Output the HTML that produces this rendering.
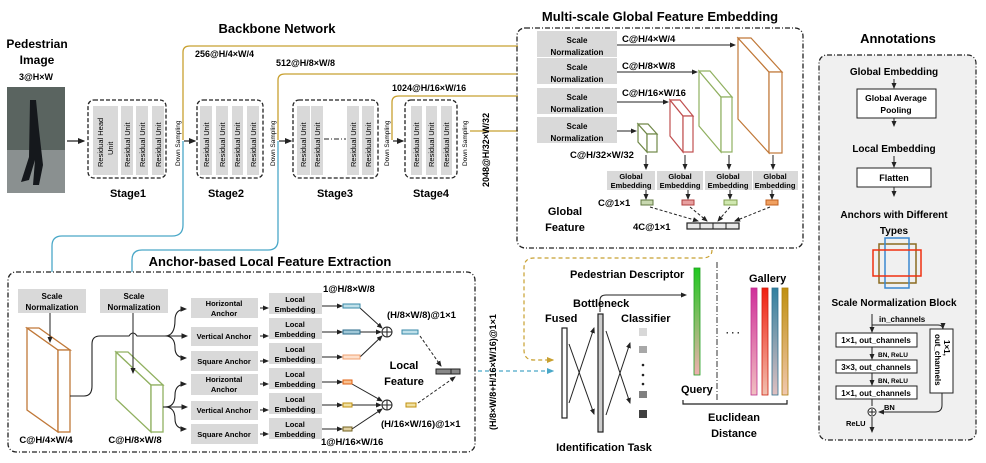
<!DOCTYPE html>
<html><head><meta charset="utf-8"><style>
body{margin:0;background:#fff;}
svg{display:block;font-family:"Liberation Sans",Arial,sans-serif;font-weight:bold;}
</style></head><body>
<svg width="986" height="463" viewBox="0 0 986 463" xmlns="http://www.w3.org/2000/svg">
<defs>
<marker id="a" markerWidth="6" markerHeight="6" refX="5" refY="3" orient="auto"><path d="M0,0.5 L6,3 L0,5.5 z" fill="#222"/></marker>
<marker id="ac" markerWidth="6" markerHeight="6" refX="5" refY="3" orient="auto"><path d="M0,0.5 L6,3 L0,5.5 z" fill="#4aa8c8"/></marker>
<marker id="ag" markerWidth="6" markerHeight="6" refX="5" refY="3" orient="auto"><path d="M0,0.5 L6,3 L0,5.5 z" fill="#c8a030"/></marker>
<linearGradient id="gq" x1="0" y1="0" x2="0" y2="1"><stop offset="0" stop-color="#1fc81f"/><stop offset="1" stop-color="#f0b0b0"/></linearGradient>
<linearGradient id="g1" x1="0" y1="0" x2="0" y2="1"><stop offset="0" stop-color="#d0309a"/><stop offset="1" stop-color="#f0c0c0"/></linearGradient>
<linearGradient id="g2" x1="0" y1="0" x2="0" y2="1"><stop offset="0" stop-color="#f02010"/><stop offset="1" stop-color="#f0c0b0"/></linearGradient>
<linearGradient id="g3" x1="0" y1="0" x2="0" y2="1"><stop offset="0" stop-color="#3080a0"/><stop offset="1" stop-color="#e0c0c0"/></linearGradient>
<linearGradient id="g4" x1="0" y1="0" x2="0" y2="1"><stop offset="0" stop-color="#c09010"/><stop offset="1" stop-color="#f0c8b0"/></linearGradient>
</defs>

<!-- Titles -->
<text x="277" y="33" font-size="13" text-anchor="middle">Backbone Network</text>
<text x="660" y="21" font-size="13" text-anchor="middle">Multi-scale Global Feature Embedding</text>
<text x="898" y="43" font-size="13" text-anchor="middle">Annotations</text>
<text x="270" y="266" font-size="13" text-anchor="middle">Anchor-based Local Feature Extraction</text>

<!-- pedestrian -->
<text x="37" y="48" font-size="12" text-anchor="middle">Pedestrian</text>
<text x="37" y="64" font-size="12" text-anchor="middle">Image</text>
<text x="36" y="80" font-size="9" text-anchor="middle">3@H×W</text>
<rect x="7" y="87" width="58" height="106" fill="#5a6460"/>
<rect x="7" y="150" width="58" height="43" fill="#8a9090"/>
<path d="M30,100 l6,0 l3,30 l4,35 l-4,20 l-6,0 l2,-25 l-6,20 l-8,2 l8,-25 z" fill="#15181c"/>
<line x1="67" y1="141" x2="84" y2="141" stroke="#222" stroke-width="1.2" marker-end="url(#a)"/>

<!-- gold lines -->
<g fill="none" stroke="#c8a030" stroke-width="1.3">
<path d="M183,140 V52 Q183,46 190,46 H518"/>
<path d="M278,140 V80 Q278,74 285,74 H518"/>
<path d="M392,140 V102 Q392,96 399,96 H518"/>
<path d="M470,131 H518"/>
</g>
<g fill="none" stroke="#4aa8c8" stroke-width="1.3">
<path d="M183,141 V225 Q183,236 172,236 H62 Q52,236 52,246 V272"/>
<path d="M278,141 V240 Q278,250 268,250 H142 Q132,250 132,260 V272"/>
</g>
<text x="195" y="57" font-size="9">256@H/4×W/4</text>
<text x="276" y="66" font-size="9">512@H/8×W/8</text>
<text x="392" y="91" font-size="9">1024@H/16×W/16</text>
<text transform="translate(489,187) rotate(-90)" font-size="9">2048@H/32×W/32</text>

<!-- stages -->
<g fill="none" stroke="#222" stroke-width="1.3" stroke-dasharray="4,2">
<rect x="88" y="100" width="78" height="78" rx="6"/>
<rect x="197" y="100" width="66" height="78" rx="6"/>
<rect x="293" y="100" width="85" height="78" rx="6"/>
<rect x="405" y="100" width="52" height="78" rx="6"/>
</g>
<g fill="#d9d9d9">
<rect x="93" y="106" width="25" height="69"/>
<rect x="121" y="106" width="12" height="69"/><rect x="136" y="106" width="12" height="69"/><rect x="152" y="106" width="12" height="69"/>
<rect x="200" y="106" width="12" height="69"/><rect x="216" y="106" width="12" height="69"/><rect x="232" y="106" width="11" height="69"/><rect x="247" y="106" width="12" height="69"/>
<rect x="297" y="106" width="13" height="69"/><rect x="311" y="106" width="12" height="69"/><rect x="347" y="106" width="12" height="69"/><rect x="362" y="106" width="12" height="69"/>
<rect x="411" y="106" width="11" height="69"/><rect x="426" y="106" width="11" height="69"/><rect x="441" y="106" width="11" height="69"/>
</g>
<line x1="324" y1="139" x2="346" y2="139" stroke="#222" stroke-dasharray="5,2,1,2"/>
<g font-size="7.5" font-weight="normal">
<text transform="translate(103,167) rotate(-90)">Residual Head</text>
<text transform="translate(113,155) rotate(-90)">Unit</text>
<g id="ru"><text transform="translate(130,167) rotate(-90)">Residual Unit</text></g>
<text transform="translate(145,167) rotate(-90)">Residual Unit</text>
<text transform="translate(161,167) rotate(-90)">Residual Unit</text>
<text transform="translate(209,167) rotate(-90)">Residual Unit</text>
<text transform="translate(225,167) rotate(-90)">Residual Unit</text>
<text transform="translate(240,167) rotate(-90)">Residual Unit</text>
<text transform="translate(256,167) rotate(-90)">Residual Unit</text>
<text transform="translate(306,167) rotate(-90)">Residual Unit</text>
<text transform="translate(320,167) rotate(-90)">Residual Unit</text>
<text transform="translate(356,167) rotate(-90)">Residual Unit</text>
<text transform="translate(371,167) rotate(-90)">Residual Unit</text>
<text transform="translate(419,167) rotate(-90)">Residual Unit</text>
<text transform="translate(434,167) rotate(-90)">Residual Unit</text>
<text transform="translate(449,167) rotate(-90)">Residual Unit</text>
<g font-size="6.5">
<text transform="translate(180,166) rotate(-90)">Down Sampling</text>
<text transform="translate(275,166) rotate(-90)">Down Sampling</text>
<text transform="translate(389,166) rotate(-90)">Down Sampling</text>
<text transform="translate(467,166) rotate(-90)">Down Sampling</text>
</g>
</g>
<g stroke="#222" stroke-width="1.2" marker-end="url(#a)">
<line x1="184" y1="141" x2="195" y2="141"/>
<line x1="279" y1="141" x2="291" y2="141"/>
<line x1="393" y1="141" x2="403" y2="141"/>
</g>
<g font-size="11" text-anchor="middle">
<text x="128" y="197">Stage1</text><text x="226" y="197">Stage2</text><text x="335" y="197">Stage3</text><text x="431" y="197">Stage4</text>
</g>

<!-- Multi-scale box -->
<rect x="517" y="28" width="286" height="220" rx="8" fill="none" stroke="#222" stroke-width="1.3" stroke-dasharray="5,2,1,2"/>
<g fill="#d9d9d9">
<rect x="537" y="31" width="80" height="26"/><rect x="537" y="58" width="80" height="26"/><rect x="537" y="88" width="80" height="26"/><rect x="537" y="117" width="80" height="26"/>
</g>
<g font-size="8" text-anchor="middle">
<text x="577" y="43">Scale</text><text x="577" y="55">Normalization</text>
<text x="577" y="70">Scale</text><text x="577" y="82">Normalization</text>
<text x="577" y="100">Scale</text><text x="577" y="112">Normalization</text>
<text x="577" y="129">Scale</text><text x="577" y="141">Normalization</text>
</g>
<g stroke="#222" stroke-width="1" marker-end="url(#a)">
<line x1="617" y1="45" x2="735" y2="45"/>
<line x1="617" y1="72" x2="697" y2="72"/>
<line x1="617" y1="102" x2="668" y2="102"/>
<line x1="617" y1="131" x2="636" y2="131"/>
</g>
<g font-size="9.5">
<text x="622" y="42">C@H/4×W/4</text><text x="622" y="69">C@H/8×W/8</text><text x="622" y="96">C@H/16×W/16</text><text x="570" y="158">C@H/32×W/32</text>
</g>
<!-- cuboids -->
<g fill="#fff" stroke-width="1.2">
<g stroke="#c07838"><polygon points="738,38 769,72 769,153 738,119"/><polygon points="738,38 751,38 782,72 769,72"/><rect x="769" y="72" width="13" height="81"/></g>
<g stroke="#90b060"><polygon points="699,71 721,97 721,152 699,126"/><polygon points="699,71 710,71 732,97 721,97"/><rect x="721" y="97" width="11" height="55"/></g>
<g stroke="#c05050"><polygon points="670,100 683,116 683,152 670,136"/><polygon points="670,100 680,100 693,116 683,116"/><rect x="683" y="116" width="10" height="36"/></g>
<g stroke="#708848"><polygon points="638,124 647,134 647,152 638,142"/><polygon points="638,124 648,124 657,134 647,134"/><rect x="647" y="134" width="10" height="18"/></g>
</g>
<g stroke="#222" stroke-width="1" marker-end="url(#a)">
<line x1="646" y1="155" x2="646" y2="169"/><line x1="685" y1="155" x2="685" y2="169"/><line x1="729" y1="155" x2="729" y2="169"/><line x1="773" y1="155" x2="773" y2="169"/>
<line x1="646" y1="190" x2="646" y2="199"/><line x1="688" y1="190" x2="688" y2="199"/><line x1="730" y1="190" x2="730" y2="199"/><line x1="772" y1="190" x2="772" y2="199"/>
</g>
<g fill="#d9d9d9"><rect x="607" y="171" width="48" height="19"/><rect x="657" y="171" width="46" height="19"/><rect x="705" y="171" width="47" height="19"/><rect x="753" y="171" width="45" height="19"/></g>
<g font-size="7.5" text-anchor="middle">
<text x="631" y="179">Global</text><text x="631" y="188">Embedding</text>
<text x="680" y="179">Global</text><text x="680" y="188">Embedding</text>
<text x="728" y="179">Global</text><text x="728" y="188">Embedding</text>
<text x="775" y="179">Global</text><text x="775" y="188">Embedding</text>
</g>
<rect x="641" y="200" width="12" height="5" fill="#c8d8b0" stroke="#607840"/>
<rect x="682" y="200" width="12" height="5" fill="#e8a0a0" stroke="#b04040"/>
<rect x="724" y="200" width="13" height="5" fill="#d0e8b0" stroke="#80a050"/>
<rect x="766" y="200" width="12" height="5" fill="#f0a060" stroke="#c06020"/>
<g stroke="#222" stroke-width="1" stroke-dasharray="3,2" marker-end="url(#a)">
<line x1="650" y1="207" x2="698" y2="221"/><line x1="690" y1="207" x2="707" y2="221"/><line x1="730" y1="207" x2="718" y2="221"/><line x1="770" y1="207" x2="735" y2="221"/>
</g>
<rect x="687" y="223" width="52" height="6" fill="#e8e8e8" stroke="#222" stroke-width="1.2"/>
<g stroke="#222"><line x1="700" y1="223" x2="700" y2="229"/><line x1="713" y1="223" x2="713" y2="229"/><line x1="726" y1="223" x2="726" y2="229"/></g>
<text x="598" y="206" font-size="9.5">C@1×1</text>
<text x="633" y="230" font-size="9.5">4C@1×1</text>
<text x="565" y="215" font-size="11" text-anchor="middle">Global</text>
<text x="565" y="231" font-size="11" text-anchor="middle">Feature</text>

<!-- Anchor box -->
<rect x="8" y="272" width="467" height="180" rx="8" fill="none" stroke="#222" stroke-width="1.3" stroke-dasharray="5,2,1,2"/>
<rect x="18" y="289" width="68" height="24" fill="#d9d9d9"/><rect x="100" y="289" width="68" height="24" fill="#d9d9d9"/>
<g font-size="8" text-anchor="middle"><text x="52" y="299">Scale</text><text x="52" y="310">Normalization</text><text x="134" y="299">Scale</text><text x="134" y="310">Normalization</text></g>
<g fill="#fff" stroke-width="1.3">
<g stroke="#c07838"><polygon points="27,328 58,350 58,432 27,410"/><polygon points="27,328 39,328 70,350 58,350"/><rect x="58" y="350" width="12" height="82"/></g>
<g stroke="#90b060"><polygon points="116,352 151,385 151,432 116,399"/><polygon points="116,352 128,352 163,385 151,385"/><rect x="151" y="385" width="12" height="47"/></g>
</g>
<g stroke="#222" stroke-width="1" marker-end="url(#a)"><line x1="50" y1="313" x2="50" y2="342"/><line x1="133" y1="313" x2="133" y2="373"/></g>
<g fill="none" stroke="#222" stroke-width="1.1">
<path d="M70,396 H84 Q92,396 92,386 V344 Q92,336 100,336 H129 Q133,330 137,336 H165"/>
<path d="M165,336 Q175,336 175,320 Q175,309 186,309" marker-end="url(#a)"/>
<path d="M165,336 H187" marker-end="url(#a)"/>
<path d="M165,336 Q175,336 175,348 Q175,358 186,358" marker-end="url(#a)"/>
<path d="M163,407 H170"/>
<path d="M165,407 Q175,407 175,395 Q175,384 186,384" marker-end="url(#a)"/>
<path d="M165,407 H187" marker-end="url(#a)"/>
<path d="M165,407 Q175,407 175,419 Q175,429 186,429" marker-end="url(#a)"/>
</g>
<g fill="#d9d9d9">
<rect x="191" y="298" width="67" height="20"/><rect x="191" y="327" width="67" height="19"/><rect x="191" y="351" width="67" height="20"/>
<rect x="191" y="374" width="67" height="21"/><rect x="191" y="401" width="67" height="19"/><rect x="191" y="424" width="67" height="20"/>
<rect x="269" y="293" width="53" height="21"/><rect x="269" y="318" width="53" height="21"/><rect x="269" y="343" width="53" height="21"/>
<rect x="269" y="368" width="53" height="21"/><rect x="269" y="393" width="53" height="21"/><rect x="269" y="418" width="53" height="21"/>
</g>
<g font-size="7.5" text-anchor="middle">
<text x="224" y="306">Horizontal</text><text x="224" y="316">Anchor</text>
<text x="224" y="339">Vertical Anchor</text>
<text x="224" y="364">Square Anchor</text>
<text x="224" y="382">Horizontal</text><text x="224" y="392">Anchor</text>
<text x="224" y="413">Vertical Anchor</text>
<text x="224" y="437">Square Anchor</text>
<text x="295" y="302">Local</text><text x="295" y="312">Embedding</text>
<text x="295" y="327">Local</text><text x="295" y="337">Embedding</text>
<text x="295" y="352">Local</text><text x="295" y="362">Embedding</text>
<text x="295" y="377">Local</text><text x="295" y="387">Embedding</text>
<text x="295" y="402">Local</text><text x="295" y="412">Embedding</text>
<text x="295" y="427">Local</text><text x="295" y="437">Embedding</text>
</g>
<g stroke="#222" stroke-width="1" marker-end="url(#a)">
<line x1="260" y1="308" x2="268" y2="308"/><line x1="260" y1="336" x2="268" y2="336"/><line x1="260" y1="361" x2="268" y2="361"/>
<line x1="260" y1="384" x2="268" y2="384"/><line x1="260" y1="410" x2="268" y2="410"/><line x1="260" y1="434" x2="268" y2="434"/>
<line x1="322" y1="306" x2="342" y2="306"/><line x1="322" y1="332" x2="342" y2="332"/><line x1="322" y1="357" x2="342" y2="357"/>
<line x1="322" y1="382" x2="342" y2="382"/><line x1="322" y1="405" x2="342" y2="405"/><line x1="322" y1="429" x2="342" y2="429"/>
<line x1="360" y1="308" x2="382" y2="328"/><line x1="360" y1="332" x2="381" y2="332"/><line x1="360" y1="357" x2="382" y2="336"/>
<line x1="352" y1="384" x2="382" y2="401"/><line x1="352" y1="405" x2="381" y2="405"/><line x1="352" y1="429" x2="382" y2="409"/>
</g>
<rect x="343" y="304" width="17" height="4" fill="#bfe0ea" stroke="#3a8aa8"/>
<rect x="343" y="330" width="17" height="4" fill="#a0c8d8" stroke="#2a6a88"/>
<rect x="343" y="355" width="17" height="4" fill="#fde0cc" stroke="#f0a070"/>
<rect x="343" y="380" width="9" height="4" fill="#f8c090" stroke="#e06010"/>
<rect x="343" y="403" width="9" height="4" fill="#f0e0a0" stroke="#c09010"/>
<rect x="343" y="427" width="9" height="4" fill="#e0d0a0" stroke="#706020"/>
<g fill="#fff" stroke="#222" stroke-width="1"><circle cx="387" cy="332" r="5"/><circle cx="387" cy="405" r="5"/></g>
<g stroke="#222" stroke-width="1"><line x1="382" y1="332" x2="392" y2="332"/><line x1="387" y1="327" x2="387" y2="337"/><line x1="382" y1="405" x2="392" y2="405"/><line x1="387" y1="400" x2="387" y2="410"/></g>
<rect x="402" y="330" width="16" height="4" fill="#bfe0ea" stroke="#3a8aa8"/>
<rect x="406" y="403" width="10" height="4" fill="#f0e0a0" stroke="#c09010"/>
<g stroke="#222" stroke-width="1" stroke-dasharray="3,2" marker-end="url(#a)"><line x1="420" y1="336" x2="441" y2="366"/><line x1="418" y1="403" x2="455" y2="377"/></g>
<rect x="436" y="369" width="24" height="5" fill="#888" stroke="#222"/><line x1="451" y1="369" x2="451" y2="374" stroke="#222"/>
<g font-size="9.5">
<text x="323" y="292">1@H/8×W/8</text>
<text x="387" y="318">(H/8×W/8)@1×1</text>
<text x="381" y="427">(H/16×W/16)@1×1</text>
<text x="321" y="445">1@H/16×W/16</text>
<text x="46" y="443" text-anchor="middle">C@H/4×W/4</text>
<text x="135" y="443" text-anchor="middle">C@H/8×W/8</text>
</g>
<text x="404" y="369" font-size="11" text-anchor="middle">Local</text>
<text x="404" y="385" font-size="11" text-anchor="middle">Feature</text>
<line x1="478" y1="371" x2="553" y2="371" stroke="#4aa8c8" stroke-width="1.2" stroke-dasharray="4,3" marker-end="url(#ac)"/>
<text transform="translate(496,430) rotate(-90)" font-size="9">(H/8×W/8+H/16×W/16)@1×1</text>
<path d="M712,250 Q712,258 702,258 H534 Q524,258 524,268 V350 Q524,360 534,360 H553" fill="none" stroke="#c8a030" stroke-width="1.2" stroke-dasharray="4,3" marker-end="url(#ag)"/>

<!-- identification -->
<rect x="562" y="328" width="5" height="90" fill="#fff" stroke="#222" stroke-width="1.2"/>
<rect x="598" y="314" width="5" height="118" fill="#ccc" stroke="#222" stroke-width="1.2"/>
<g stroke="#222" stroke-width="1" marker-end="url(#a)">
<line x1="569" y1="403" x2="594" y2="328"/><line x1="569" y1="344" x2="594" y2="414"/>
<line x1="606" y1="415" x2="630" y2="343"/><line x1="606" y1="331" x2="630" y2="403"/>
</g>
<path d="M600,312 V300 Q600,295 606,295 H686" fill="none" stroke="#222" stroke-width="1" marker-end="url(#a)"/>
<rect x="639" y="328" width="8" height="8" fill="#d8d8d8"/>
<rect x="639" y="346" width="8" height="7" fill="#a8a8a8"/>
<circle cx="643" cy="365" r="1.3" fill="#222"/><circle cx="643" cy="375" r="1.3" fill="#222"/><circle cx="643" cy="384" r="1.3" fill="#222"/>
<rect x="639" y="391" width="8" height="7" fill="#808080"/>
<rect x="639" y="410" width="8" height="8" fill="#404040"/>
<g font-size="11">
<text x="545" y="322">Fused</text><text x="573" y="307">Bottleneck</text><text x="621" y="322">Classifier</text>
<text x="570" y="278">Pedestrian Descriptor</text>
<text x="681" y="393">Query</text><text x="749" y="282">Gallery</text>
<text x="734" y="421" text-anchor="middle">Euclidean</text><text x="734" y="437" text-anchor="middle">Distance</text>
<text x="604" y="451" text-anchor="middle">Identification Task</text>
</g>
<rect x="694" y="268" width="6" height="107" fill="url(#gq)" stroke="#20a020" stroke-width="0.8"/>
<line x1="717" y1="262" x2="717" y2="400" stroke="#333" stroke-dasharray="6,2,1,2"/>
<text x="733" y="336" font-size="9" text-anchor="middle">· · ·</text>
<rect x="751" y="288" width="6" height="107" fill="url(#g1)" stroke="#c03090" stroke-width="0.8"/>
<rect x="762" y="288" width="6" height="107" fill="url(#g2)" stroke="#d02010" stroke-width="0.8"/>
<rect x="772" y="288" width="6" height="107" fill="url(#g3)" stroke="#307090" stroke-width="0.8"/>
<rect x="782" y="288" width="6" height="107" fill="url(#g4)" stroke="#b08010" stroke-width="0.8"/>
<path d="M683,400 V404 H787 V400" fill="none" stroke="#222" stroke-width="1.2"/>

<!-- annotations -->
<rect x="819" y="55" width="157" height="385" rx="8" fill="#f0f0f0" stroke="#222" stroke-width="1.2" stroke-dasharray="5,2,1,2"/>
<g font-size="10" text-anchor="middle">
<text x="894" y="75">Global Embedding</text>
<text x="894" y="152">Local Embedding</text>
<text x="894" y="218">Anchors with Different</text>
<text x="894" y="234">Types</text>
<text x="894" y="306">Scale Normalization Block</text>
</g>
<g stroke="#222" stroke-width="1" marker-end="url(#a)">
<line x1="894" y1="79" x2="894" y2="88"/><line x1="894" y1="118" x2="894" y2="126"/>
<line x1="894" y1="156" x2="894" y2="167"/><line x1="894" y1="187" x2="894" y2="196"/>
</g>
<rect x="857" y="89" width="79" height="29" fill="#fff" stroke="#222"/>
<text x="896" y="101" font-size="8.5" text-anchor="middle">Global Average</text>
<text x="896" y="113" font-size="8.5" text-anchor="middle">Pooling</text>
<rect x="857" y="168" width="74" height="19" fill="#fff" stroke="#222"/>
<text x="894" y="181" font-size="9" text-anchor="middle">Flatten</text>
<rect x="879" y="244" width="37" height="39" fill="none" stroke="#8a6a20" stroke-width="1.5"/>
<rect x="885" y="238" width="24" height="50" fill="none" stroke="#3a88d0" stroke-width="1.5"/>
<rect x="873" y="250" width="48" height="26" fill="none" stroke="#f03010" stroke-width="1.5"/>
<g stroke="#222" stroke-width="1" fill="none">
<line x1="872" y1="314" x2="872" y2="332" marker-end="url(#a)"/>
<path d="M872,325 H938 Q943,325 943,330 V327" />
<line x1="943" y1="325" x2="943" y2="328" marker-end="url(#a)"/>
<line x1="872" y1="347" x2="872" y2="359" marker-end="url(#a)"/>
<line x1="872" y1="373" x2="872" y2="385" marker-end="url(#a)"/>
<line x1="872" y1="399" x2="872" y2="406"/>
<path d="M942,393 V405 Q942,412 935,412 H879" marker-end="url(#a)"/>
<line x1="872" y1="417" x2="872" y2="432" marker-end="url(#a)"/>
</g>
<rect x="930" y="329" width="23" height="64" fill="#fff" stroke="#222"/>
<text transform="translate(944,340) rotate(90)" font-size="8">1×1,</text>
<text transform="translate(935,334) rotate(90)" font-size="8">out_channels</text>
<g fill="#fff" stroke="#222"><rect x="836" y="333" width="81" height="14"/><rect x="836" y="360" width="81" height="13"/><rect x="836" y="386" width="81" height="13"/></g>
<g font-size="8" text-anchor="middle"><text x="876" y="343">1×1, out_channels</text><text x="876" y="370">3×3, out_channels</text><text x="876" y="396">1×1, out_channels</text></g>
<text x="879" y="322" font-size="8">in_channels</text>
<g font-size="6.5"><text x="878" y="357">BN, ReLU</text><text x="878" y="383">BN, ReLU</text></g>
<text x="884" y="410" font-size="7.5">BN</text>
<text x="846" y="426" font-size="7.5">ReLU</text>
<circle cx="872" cy="412" r="4" fill="#fff" stroke="#222"/>
<line x1="869" y1="412" x2="875" y2="412" stroke="#222"/><line x1="872" y1="409" x2="872" y2="415" stroke="#222"/>
</svg>
</body></html>
